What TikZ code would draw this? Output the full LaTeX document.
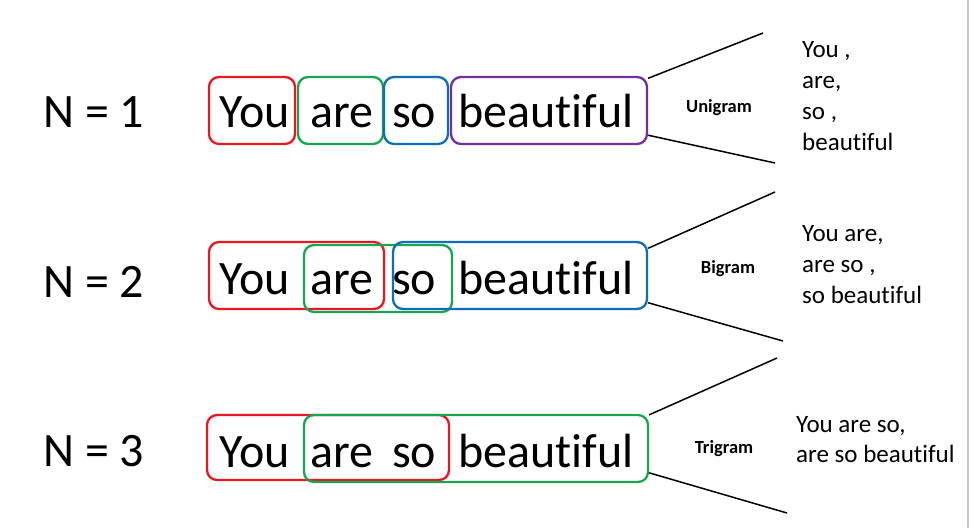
\documentclass[tikz,border=0pt]{standalone}
\usepackage{xcolor}
\usepackage{tikz}
\usepackage{fontspec}
\setmainfont[Ligatures=NoCommon]{Carlito}
\definecolor{gramred}{RGB}{230, 25, 35}
\definecolor{gramgreen}{RGB}{25, 165, 80}
\definecolor{gramblue}{RGB}{15, 110, 185}
\definecolor{grampurple}{RGB}{112, 48, 160}

\begin{document}
\begin{tikzpicture}[x=1pt, y=-1pt,
    word/.style={anchor=base west, inner sep=0pt, font=\fontsize{48}{56}\selectfont},
    gbox/.style={draw, line width=2.3pt, rounded corners=10pt, minimum height=67pt, inner sep=0pt},
    gram/.style={anchor=base, inner sep=0pt, font=\fontsize{18.5}{22}\selectfont\bfseries},
    result/.style={anchor=base west, inner sep=0pt, font=\fontsize{25}{31}\selectfont},
    link/.style={line width=1.5pt}]
    \useasboundingbox (0,0) rectangle (969,528);
    \draw[black!22, line width=1.5pt] (968,0) -- (968,528);

    % N labels
    \node[word] (n1) at (43,127) {N = 1};
    \node[word] (n2) at (43,297) {N = 2};
    \node[word] (n3) at (43,466) {N = 3};

    % Sentence, same word positions in every row
    \foreach \y [count=\r] in {127,294,467} {
        \foreach \w/\x [count=\i] in {You/219, are/310, so/392, beautiful/458}
            \node[word] (w\r-\i) at (\x,\y) {\w};
    }

    % N = 1: unigram boxes
    \node[gbox, draw=gramred, minimum width=86pt] (uni1) at (252,110.5) {};
    \node[gbox, draw=gramgreen, minimum width=85pt] (uni2) at (340.5,110.5) {};
    \node[gbox, draw=gramblue, minimum width=64pt] (uni3) at (416,110.5) {};
    \node[gbox, draw=grampurple, minimum width=196pt] (uni4) at (549,110.5) {};

    % N = 2: bigram boxes
    \node[gbox, draw=gramred, minimum width=175pt] (bi1) at (296.5,275.5) {};
    \node[gbox, draw=gramgreen, minimum width=148pt] (bi2) at (378,278.5) {};
    \node[gbox, draw=gramblue, minimum width=254pt] (bi3) at (520,275.5) {};

    % N = 3: trigram boxes
    \node[gbox, draw=gramred, minimum width=242pt, minimum height=65pt] (tri1) at (328,447.5) {};
    \node[gbox, draw=gramgreen, minimum width=344pt] (tri2) at (476,448.5) {};

    % Fan-out lines
    \coordinate (uniTop) at (763,33);
    \coordinate (uniBot) at (775,163);
    \coordinate (biTop) at (775,192);
    \coordinate (biBot) at (783,341);
    \coordinate (triTop) at (777,358);
    \coordinate (triBot) at (787,513);
    \draw[link] (uni4.18) -- (uniTop);
    \draw[link] (uni4.-14) -- (uniBot);
    \draw[link] (bi3.12) -- (biTop);
    \draw[link] (bi3.-12) -- (biBot);
    \draw[link] (tri2.11) -- (triTop);
    \draw[link] (tri2.-8) -- (triBot);

    % Labels
    \node[gram] (unigram) at (719,112) {Unigram};
    \node[gram] (bigram) at (728,273) {Bigram};
    \node[gram] (trigram) at (724,453) {Trigram};

    % Results
    \foreach \t [count=\i] in {{You ,}, {are,}, {so ,}, beautiful}
        \node[result] (res1-\i) at (802,26+31*\i) {\t};
    \foreach \t [count=\i] in {{You are,}, {are so ,}, {so beautiful}}
        \node[result] (res2-\i) at (802,210+31*\i) {\t};
    \foreach \t [count=\i] in {{You are so,}, {are so beautiful}}
        \node[result] (res3-\i) at (796,402+30*\i) {\t};
\end{tikzpicture}
\end{document}
